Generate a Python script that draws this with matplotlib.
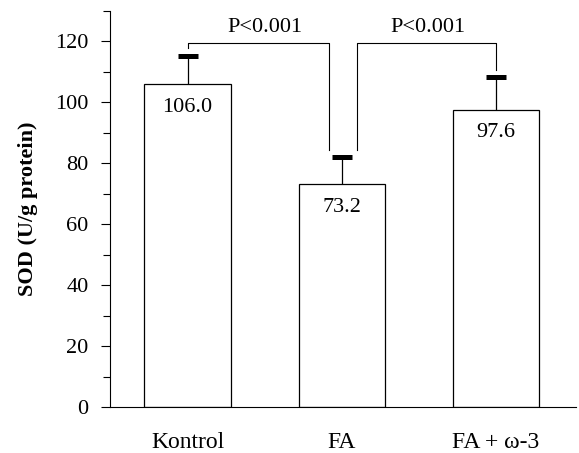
import matplotlib
matplotlib.use("Agg")
import matplotlib.pyplot as plt
from matplotlib.ticker import MultipleLocator

categories = ["Kontrol", "FA", "FA + ω-3"]
means = [106.0, 73.2, 97.6]
sd = [9.2, 9.0, 10.6]
value_labels = ["106.0", "73.2", "97.6"]
p_texts = ["P<0.001", "P<0.001"]

plt.rcParams['font.family'] = ['Liberation Serif', 'DejaVu Serif']

fig = plt.figure(figsize=(5.79, 4.53), dpi=100)
ax = fig.add_axes([110/579, 1 - 407/453, 1 - 110/579 - 0.005, (407 - 11)/453])

x = list(range(len(categories)))
ax.bar(x, means, width=0.56, color='white', edgecolor='black', linewidth=0.9, zorder=2)
tops = [m + s for m, s in zip(means, sd)]
ax.vlines(x, means, tops, color='black', lw=0.9, zorder=1)
ax.plot(x, tops, linestyle='none', marker='_', markersize=15, markeredgewidth=3.6,
        color='black', zorder=3)

for xi, m, lab in zip(x, means, value_labels):
    ax.text(xi, m - 4.5, lab, ha='center', va='top', fontsize=16, zorder=3)

# significance brackets
top = 119.6
brackets = [(0, 117.8, 0.92, 84.5), (1.10, 84.5, 2, 110.5)]
text_shift = [0.045, 0.01]
for (x1, y1, x2, y2), t, dx in zip(brackets, p_texts, text_shift):
    ax.plot([x1, x1, x2, x2], [y1, top, top, y2], color='black', lw=0.8, zorder=3)
    ax.text((x1 + x2)/2 + dx, top + 3.6, t, ha='center', va='baseline', fontsize=16)

ax.set_xlim(-0.503, 2.52)
ax.set_ylim(0, 130)
ax.yaxis.set_minor_locator(MultipleLocator(10))
ax.set_yticks(range(0, 121, 20))
ax.set_xticks(x)
ax.set_xticklabels(categories, fontsize=17)
ax.tick_params(axis='x', length=0, pad=18)
ax.tick_params(axis='y', which='major', length=6.5, width=0.8, labelsize=16, pad=9)
ax.tick_params(axis='y', which='minor', length=5, width=0.8)
for s in ['top', 'right']:
    ax.spines[s].set_visible(False)
ax.spines['left'].set_linewidth(0.8)
ax.spines['bottom'].set_linewidth(0.8)
ax.set_ylabel("SOD (U/g protein)", fontsize=16, fontweight='bold', labelpad=12)

fig.savefig("out.png", dpi=100)
